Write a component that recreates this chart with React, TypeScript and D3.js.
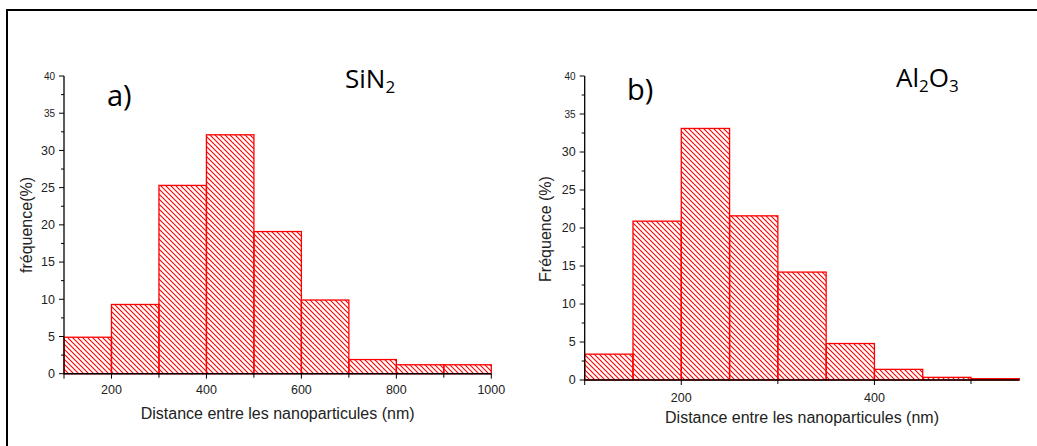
import React from "react";
import * as d3 from "d3";

// Panel a) SiN2 — bins of 100 nm from 100 to 1000
const binsA = [100, 200, 300, 400, 500, 600, 700, 800, 900];
const widthA = 100;
const valuesA = [4.9, 9.3, 25.3, 32.1, 19.1, 9.9, 1.9, 1.2, 1.2];
const xTicksA = [200, 400, 600, 800, 1000];
const xMinorA = [300, 500, 700, 900];

// Panel b) Al2O3 — bins of 50 nm from 100 to 550
const binsB = [100, 150, 200, 250, 300, 350, 400, 450, 500];
const widthB = 50;
const valuesB = [3.4, 20.9, 33.1, 21.6, 14.2, 4.8, 1.4, 0.35, 0.17];
const xTicksB = [200, 400];
const xMinorB = [300, 500];

const yTicks = [0, 5, 10, 15, 20, 25, 30, 35, 40];
const yMinor = [2.5, 7.5, 12.5, 17.5, 22.5, 27.5, 32.5, 37.5];

const RED = "#ff0000";
const AXIS_FONT = "'Liberation Sans', Arial, sans-serif";
const LABEL_FONT = "'Open Sans', 'Noto Sans', sans-serif";

type PanelProps = {
  id: string;
  bins: number[];
  binWidth: number;
  values: number[];
  xDomain: [number, number];
  xRange: [number, number];
  yRange: [number, number];
  xTicks: number[];
  xMinor: number[];
  yLabel: string;
  yLabelX: number;
  yLabelY: number;
  xLabelY: number;
  tickLabelY: number;
};

function Panel(p: PanelProps) {
  const x = d3.scaleLinear().domain(p.xDomain).range(p.xRange);
  const y = d3.scaleLinear().domain([0, 40]).range(p.yRange);
  const x0 = p.xRange[0];
  const y0 = y(0);
  return (
    <g>
      {p.bins.map((b, i) => (
        <rect
          key={i}
          x={x(b)}
          y={y(p.values[i])}
          width={x(b + p.binWidth) - x(b)}
          height={y0 - y(p.values[i])}
          fill={`url(#hatch)`}
          stroke={RED}
          strokeWidth={1.3}
        />
      ))}
      {/* axes */}
      <line x1={x0} x2={x0} y1={y(0)} y2={y(40)} stroke="#000" strokeWidth={1.3} />
      <line x1={p.xRange[0]} x2={p.xRange[1]} y1={y0} y2={y0} stroke="#000" strokeWidth={1.5} />
      {yTicks.map((t) => (
        <g key={"yt" + t}>
          <line x1={x0 - 5} x2={x0} y1={y(t)} y2={y(t)} stroke="#000" strokeWidth={1} />
          <text
            x={x0 - 9}
            y={y(t)}
            dy="0.35em"
            textAnchor="end"
            fontFamily={AXIS_FONT}
            fontSize={t >= 35 ? 10 : 12.5}
            fill="#222"
          >
            {t}
          </text>
        </g>
      ))}
      {yMinor.map((t) => (
        <line key={"ym" + t} x1={x0 - 3} x2={x0} y1={y(t)} y2={y(t)} stroke="#000" strokeWidth={1} />
      ))}
      {[p.xDomain[0], ...p.xTicks].map((t) => (
        <line key={"xt" + t} x1={x(t)} x2={x(t)} y1={y0} y2={y0 + 5} stroke="#000" strokeWidth={1} />
      ))}
      {p.xMinor.map((t) => (
        <line key={"xm" + t} x1={x(t)} x2={x(t)} y1={y0} y2={y0 + 4} stroke="#000" strokeWidth={1} />
      ))}
      {p.xTicks.map((t) => (
        <text
          key={"xl" + t}
          x={x(t)}
          y={p.tickLabelY}
          textAnchor="middle"
          fontFamily={AXIS_FONT}
          fontSize={12.5}
          fill="#222"
        >
          {t}
        </text>
      ))}
      <text
        x={(p.xRange[0] + p.xRange[1]) / 2}
        y={p.xLabelY}
        textAnchor="middle"
        fontFamily={AXIS_FONT}
        fontSize={16}
        fill="#222"
      >
        Distance entre les nanoparticules (nm)
      </text>
      <text
        transform={`translate(${p.yLabelX},${p.yLabelY}) rotate(-90)`}
        textAnchor="middle"
        dy="0.35em"
        fontFamily={AXIS_FONT}
        fontSize={16}
        fill="#222"
      >
        {p.yLabel}
      </text>
    </g>
  );
}

export default function App() {
  return (
    <svg
      width={1037}
      height={446}
      style={{ position: "absolute", left: 0, top: 0, background: "#fff" }}
    >
      <defs>
        <pattern id="hatch" patternUnits="userSpaceOnUse" width={5} height={5}>
          <path d="M0,0 L5,5 M-1,4 L1,6 M4,-1 L6,1" stroke={RED} strokeWidth={1.1} />
        </pattern>
      </defs>
      <rect x={7} y={10} width={1100} height={500} fill="none" stroke="#000" strokeWidth={2} />
      <Panel
        id="a"
        bins={binsA}
        binWidth={widthA}
        values={valuesA}
        xDomain={[100, 1000]}
        xRange={[64, 491.3]}
        yRange={[373.7, 76]}
        xTicks={xTicksA}
        xMinor={xMinorA}
        yLabel="fréquence(%)"
        yLabelX={26}
        yLabelY={225}
        xLabelY={419}
        tickLabelY={394}
      />
      <Panel
        id="b"
        bins={binsB}
        binWidth={widthB}
        values={valuesB}
        xDomain={[100, 550]}
        xRange={[584.7, 1019.3]}
        yRange={[380, 76]}
        xTicks={xTicksB}
        xMinor={xMinorB}
        yLabel="Fréquence (%)"
        yLabelX={545}
        yLabelY={229}
        xLabelY={423}
        tickLabelY={402}
      />
      <text x={107} y={106} fontFamily={LABEL_FONT} fontSize={29} fill="#000">a)</text>
      <text x={345} y={88} fontFamily={LABEL_FONT} fontSize={26} fill="#000">
        SiN<tspan dy={5} fontSize={17}>2</tspan>
      </text>
      <text x={627} y={100} fontFamily={LABEL_FONT} fontSize={29} fill="#000">b)</text>
      <text x={896} y={87} fontFamily={LABEL_FONT} fontSize={26} fill="#000">
        Al<tspan dy={5} fontSize={17}>2</tspan>
        <tspan dy={-5}>O</tspan>
        <tspan dy={5} fontSize={17}>3</tspan>
      </text>
    </svg>
  );
}
